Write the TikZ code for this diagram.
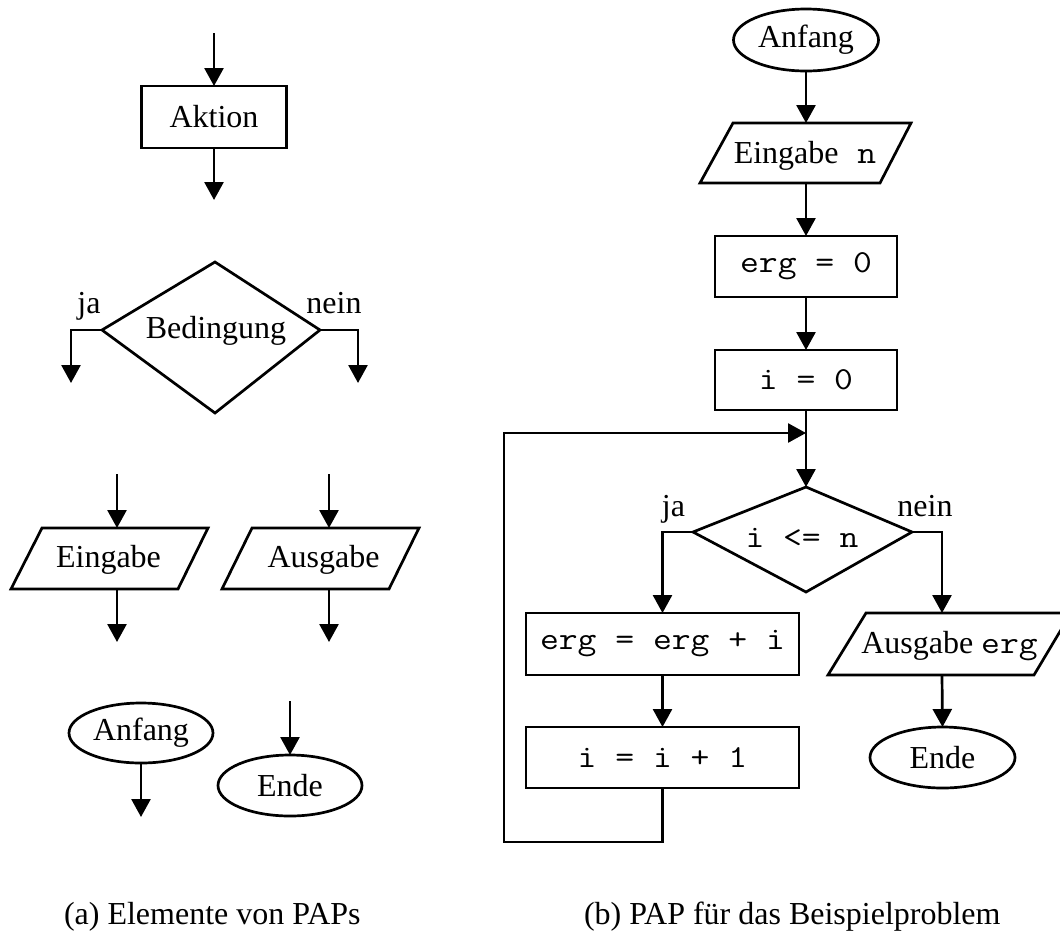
\documentclass[tikz,border=0pt]{standalone}
\usepackage{fontspec}
\setmainfont{Liberation Serif}
\setmonofont{Latin Modern Mono}[FakeStretch=1.143]
\usetikzlibrary{arrows.meta,shapes.geometric}
\begin{document}
\begin{tikzpicture}[x=1pt,y=-1pt,
  every node/.style={font=\fontsize{32}{38}\selectfont, inner sep=0pt, outer sep=0pt},
  wire/.style={line width=2.7pt},
  arr/.style={wire, -{Triangle[length=18pt,width=19pt]}},
  stepbox/.style={draw, line width=2.7pt, rectangle, minimum height=61pt},
  term/.style={draw, line width=2.7pt, ellipse, minimum width=145pt, minimum height=61pt},
  outline/.style={line width=2.7pt, line join=miter},
  lbl/.style={anchor=base}
]
\useasboundingbox (0,0) rectangle (1060,930);

% ---------------- (a) elements ----------------
% action
\node[stepbox, minimum width=145pt, minimum height=62pt] (aktion) at (214,117) {Aktion};
\coordinate (aktIn) at (214,33);
\coordinate (aktOut) at (214,200);
\draw[arr] (aktIn) -- (aktion.north);
\draw[arr] (aktion.south) -- (aktOut);

% condition
\coordinate (d1t) at (215,262);
\coordinate (d1l) at (102,330);
\coordinate (d1r) at (320,330);
\coordinate (d1b) at (215,413);
\draw[outline] (d1t) -- (d1r) -- (d1b) -- (d1l) -- cycle;
\node[lbl] (bed) at (216,338) {Bedingung};
\node[lbl] (ja1) at (89,313) {ja};
\node[lbl] (nein1) at (334,313) {nein};
\coordinate (d1ja) at (71,383);
\coordinate (d1nein) at (358,383);
\draw[arr] (d1l) -| (d1ja);
\draw[arr] (d1r) -| (d1nein);

% input
\coordinate (e1a) at (42,528);
\coordinate (e1b) at (208,528);
\coordinate (e1c) at (178,589);
\coordinate (e1d) at (11,589);
\draw[outline] (e1a) -- (e1b) -- (e1c) -- (e1d) -- cycle;
\node[lbl] (ein1) at (108.5,567) {Eingabe};
\coordinate (ein1In) at (117,474);
\coordinate (ein1Top) at (117,528);
\coordinate (ein1Bot) at (117,589);
\coordinate (ein1Out) at (117,642);
\draw[arr] (ein1In) -- (ein1Top);
\draw[arr] (ein1Bot) -- (ein1Out);

% output
\coordinate (a1a) at (252,528);
\coordinate (a1b) at (419,528);
\coordinate (a1c) at (389,589);
\coordinate (a1d) at (222,589);
\draw[outline] (a1a) -- (a1b) -- (a1c) -- (a1d) -- cycle;
\node[lbl] (aus1) at (323.5,567) {Ausgabe};
\coordinate (aus1In) at (329,474);
\coordinate (aus1Top) at (329,528);
\coordinate (aus1Bot) at (329,589);
\coordinate (aus1Out) at (329,642);
\draw[arr] (aus1In) -- (aus1Top);
\draw[arr] (aus1Bot) -- (aus1Out);

% start and end
\node[term, minimum width=144pt, minimum height=60pt] (anf1) at (141,733) {Anfang};
\coordinate (anf1Out) at (141,817);
\draw[arr] (anf1.south) -- (anf1Out);
\node[term, minimum width=144pt] (ende1) at (290,785.5) {Ende};
\coordinate (ende1In) at (290,701);
\draw[arr] (ende1In) -- (ende1.north);

% ---------------- (b) example ----------------
\node[term, minimum height=62pt] (anf2) at (806,40) {Anfang};

\coordinate (e2a) at (733,123);
\coordinate (e2b) at (911,123);
\coordinate (e2c) at (880,183);
\coordinate (e2d) at (700,183);
\draw[outline] (e2a) -- (e2b) -- (e2c) -- (e2d) -- cycle;
\node[lbl] (ein2) at (805,163) {Eingabe\texttt{ n}};
\coordinate (ein2Top) at (806,123);
\coordinate (ein2Bot) at (806,183);
\draw[arr] (anf2.south) -- (ein2Top);

\node[stepbox, minimum width=182pt] (erg0) at (806,266.5) {\texttt{erg = 0}};
\draw[arr] (ein2Bot) -- (erg0.north);

\node[stepbox, minimum width=182pt, minimum height=60pt] (i0) at (806,380) {\texttt{i = 0}};
\draw[arr] (erg0.south) -- (i0.north);

\coordinate (join) at (806,433);
\coordinate (d2t) at (806,487);
\coordinate (d2l) at (693,532);
\coordinate (d2r) at (912,532);
\coordinate (d2b) at (806,592);
\draw[wire] (i0.south) -- (join);
\draw[arr] (join) -- (d2t);
\draw[outline] (d2t) -- (d2r) -- (d2b) -- (d2l) -- cycle;
\node[lbl] (cond) at (802,547) {\texttt{i <= n}};
\node[lbl] (ja2) at (673.5,516) {ja};
\node[lbl] (nein2) at (925,516) {nein};

\node[stepbox, minimum width=273pt, minimum height=62pt] (ergi) at (662.5,644) {\texttt{erg = erg + i}};
\node[stepbox, minimum width=273pt] (inc) at (662.5,757.5) {\texttt{i = i + 1}};
\draw[arr] (d2l) -| (ergi.north);
\draw[arr] (ergi.south) -- (inc.north);

% loop back
\coordinate (loopA) at (662.5,842);
\coordinate (loopB) at (504,842);
\draw[arr, line join=miter] (inc.south) -- (loopA) -- (loopB) |- (join);

% output and end
\coordinate (a2a) at (866,613);
\coordinate (a2b) at (1071,613);
\coordinate (a2c) at (1034,675);
\coordinate (a2d) at (828,675);
\draw[outline] (a2a) -- (a2b) -- (a2c) -- (a2d) -- cycle;
\node[lbl] (aus2) at (949.5,653) {Ausgabe \texttt{erg}};
\coordinate (aus2Top) at (942,613);
\coordinate (aus2Bot) at (942,675);
\draw[arr] (d2r) -| (aus2Top);

\node[term] (ende2) at (942.5,757.5) {Ende};
\draw[arr] (aus2Bot) -- (ende2.north);

% captions
\node[anchor=base west] (capA) at (64,924) {(a) Elemente von PAPs};
\node[anchor=base west] (capB) at (584,924) {(b) PAP für das Beispielproblem};
\end{tikzpicture}
\end{document}
